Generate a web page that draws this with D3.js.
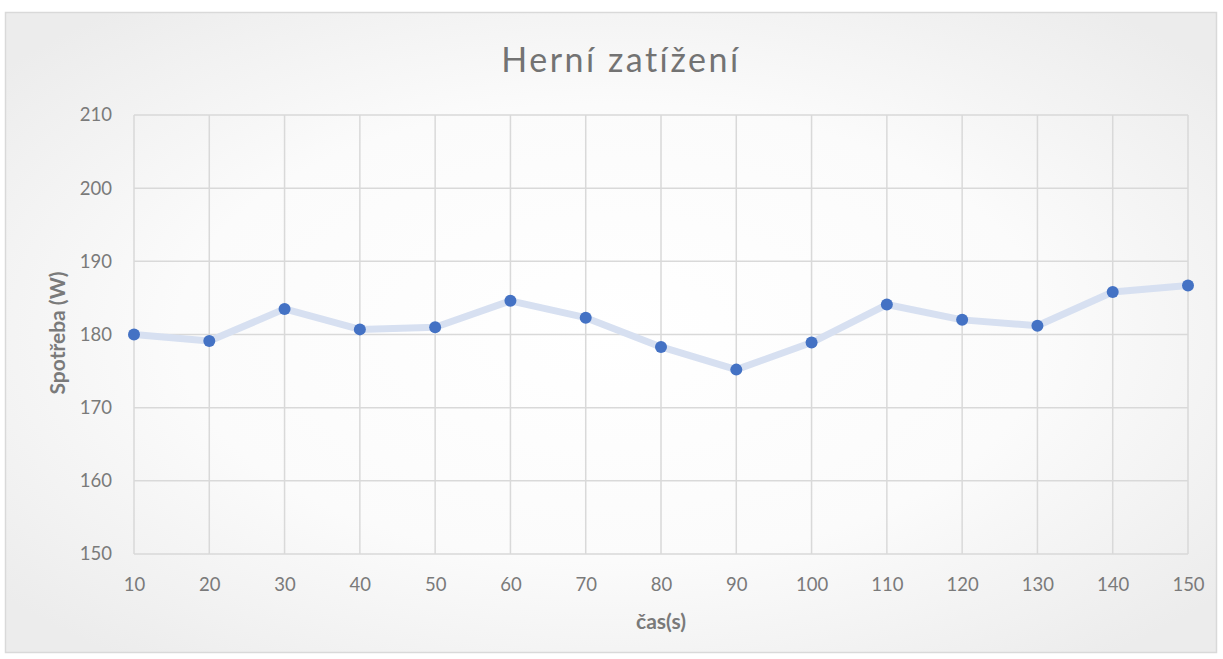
<!DOCTYPE html>
<html><head><meta charset="utf-8">
<script src="https://cdn.jsdelivr.net/npm/d3@7"></script>
<style>html,body{margin:0;padding:0;background:#fff;}svg{display:block;}</style>
</head><body>
<script>
const times = [10,20,30,40,50,60,70,80,90,100,110,120,130,140,150];
const power = [180.0,179.1,183.5,180.7,181.0,184.6,182.3,178.3,175.2,178.9,184.1,182.0,181.2,185.8,186.7];
const yTicks = [150,160,170,180,190,200,210];
const title = "Herní zatížení";
const xTitle = "čas(s)";
const yTitle = "Spotřeba (W)";

const W = 1223, H = 659;
const svg = d3.select("body").append("svg").attr("width", W).attr("height", H);
const defs = svg.append("defs");
const rg = defs.append("radialGradient").attr("id","bg").attr("cx","50%").attr("cy","50%").attr("r","65%");
rg.append("stop").attr("offset","0%").attr("stop-color","#ffffff");
rg.append("stop").attr("offset","55%").attr("stop-color","#fbfbfb");
rg.append("stop").attr("offset","100%").attr("stop-color","#ececec");
svg.append("rect").attr("x",5.5).attr("y",12.5).attr("width",1211).attr("height",640)
  .attr("fill","url(#bg)").attr("stroke","#d9d9d9").attr("stroke-width",1.5);

const font = "Lato, 'Open Sans', sans-serif";
const x = d3.scaleLinear().domain([10,150]).range([134,1188]);
const y = d3.scaleLinear().domain([150,210]).range([554,115]);

// gridlines
const g = svg.append("g");
g.selectAll(".hg").data(yTicks).join("line")
  .attr("x1",x(10)).attr("x2",x(150)).attr("y1",d=>y(d)).attr("y2",d=>y(d))
  .attr("stroke","#d9d9d9").attr("stroke-width",1.5);
g.selectAll(".vg").data(times).join("line")
  .attr("x1",d=>x(d)).attr("x2",d=>x(d)).attr("y1",y(150)).attr("y2",y(210))
  .attr("stroke","#d9d9d9").attr("stroke-width",1.5);

// axes labels
const xAxis = d3.axisBottom(x).tickValues(times).tickSize(0).tickPadding(24);
const xa = svg.append("g").attr("transform",`translate(0,${y(150)})`).call(xAxis);
xa.select(".domain").remove();
xa.selectAll("text").attr("font-family",font).attr("font-size",18.5).attr("fill","#7a7a7a");

const yAxis = d3.axisLeft(y).tickValues(yTicks).tickSize(0).tickPadding(22);
const ya = svg.append("g").attr("transform",`translate(${x(10)},0)`).call(yAxis);
ya.select(".domain").remove();
ya.selectAll("text").attr("font-family",font).attr("font-size",18.5).attr("fill","#7a7a7a");

// line
const line = d3.line().x((d,i)=>x(times[i])).y(d=>y(d));
svg.append("path").datum(power).attr("d",line).attr("fill","none")
  .attr("stroke","#d7e0f1").attr("stroke-width",7).attr("stroke-linejoin","round");
svg.selectAll(".pt").data(power).join("circle")
  .attr("cx",(d,i)=>x(times[i])).attr("cy",d=>y(d)).attr("r",6).attr("fill","#4472c4");

// titles
svg.append("text").attr("x",621).attr("y",72).attr("text-anchor","middle")
  .attr("font-family",font).attr("font-size",34).attr("fill","#737373").attr("letter-spacing",2.5).text(title);
svg.append("text").attr("x",661).attr("y",629).attr("text-anchor","middle")
  .attr("font-family",font).attr("font-size",21).attr("font-weight","bold").attr("fill","#7a7a7a").text(xTitle);
svg.append("text").attr("transform","translate(65,333) rotate(-90)").attr("text-anchor","middle")
  .attr("font-family",font).attr("font-size",21).attr("font-weight","bold").attr("fill","#7a7a7a").text(yTitle);
</script>
</body></html>
